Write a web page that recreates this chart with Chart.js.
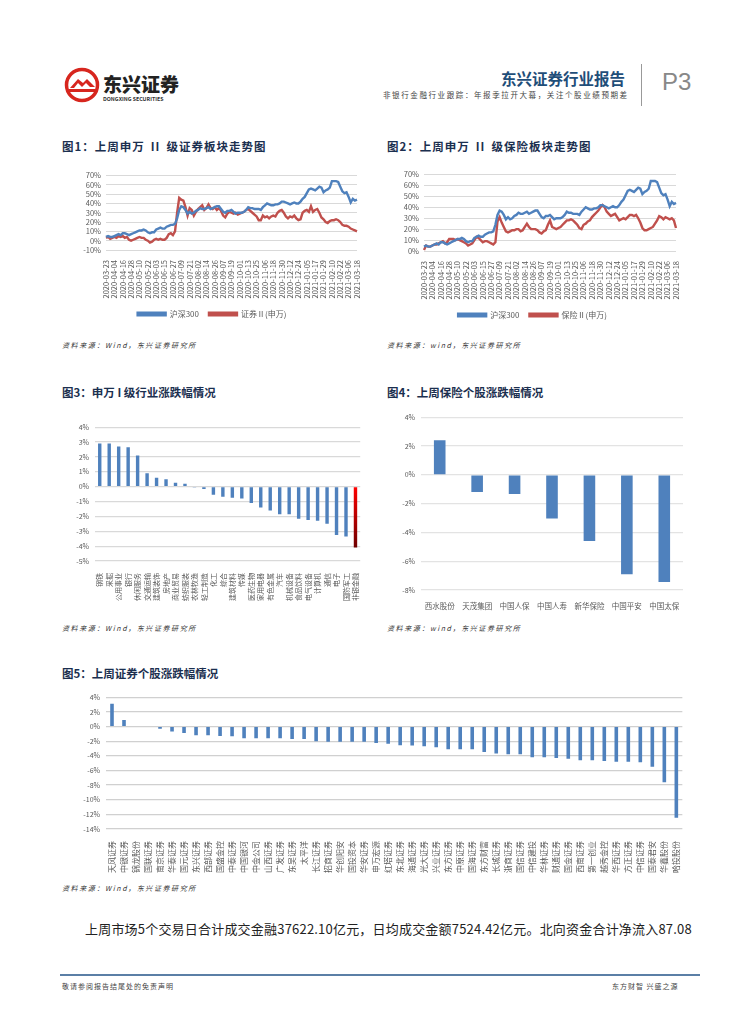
<!DOCTYPE html>
<html>
<head>
<meta charset="utf-8">
<title>非银行金融行业跟踪</title>
<script src="https://cdn.jsdelivr.net/npm/chart.js@4.4.1/dist/chart.umd.min.js"></script>
<style>
  body { margin: 0; background: #fff; font-family: "Noto Sans CJK SC", sans-serif; }
  #page { position: relative; width: 755px; height: 1024px; overflow: hidden; }
  .abs { position: absolute; white-space: nowrap; }
  .title { font-size: 11.5px; font-weight: bold; color: #1b2f4f; }
  .title .rn { margin: 0 6px; }
  .src { font-size: 7px; font-style: italic; color: #333; letter-spacing: 1.6px; }
  .box { position: absolute; }
</style>
</head>
<body>
<div id="page">
  <!-- header -->
  <svg class="abs" style="left:64px;top:67px" width="36" height="36" viewBox="0 0 36 36">
    <circle cx="18" cy="18" r="15.5" fill="none" stroke="#d7261e" stroke-width="3.5"/>
    <path d="M6 21 L14 12 L19 16 L23 12 L31 20 L26 20 L22 16 L18 20 L14 16 L10 21 Z" fill="#d7261e"/>
    <rect x="5" y="22" width="26" height="3" fill="#d7261e"/>
  </svg>
  <div class="abs" style="left:103px;top:70px;font-size:19px;font-weight:900;color:#222">东兴证券</div>
  <div class="abs" style="left:103px;top:95px;font-size:5.3px;font-weight:bold;color:#333">DONGXING SECURITIES</div>
  <div class="abs" style="left:501px;top:67px;font-size:15.5px;font-weight:bold;color:#1f4e79">东兴证券行业报告</div>
  <div class="abs" style="left:383px;top:89px;font-size:7.5px;color:#444;letter-spacing:1.6px">非银行金融行业跟踪：年报季拉开大幕，关注个股业绩预期差</div>
  <div class="abs" style="left:641px;top:64px;width:1px;height:42px;background:#999"></div>
  <div class="abs" style="left:662px;top:68px;font-size:24px;color:#888;font-family:'Liberation Sans'">P3</div>

  <!-- titles -->
  <div class="abs title" style="left:62px;top:138px;letter-spacing:1px">图1：上周申万<span class="rn">II</span>级证券板块走势图</div>
  <div class="abs title" style="left:387px;top:138px;letter-spacing:1px">图2：上周申万<span class="rn">II</span>级保险板块走势图</div>
  <div class="abs src" style="left:62px;top:340px">资料来源：Wind，东兴证券研究所</div>
  <div class="abs src" style="left:387px;top:340px">资料来源：wind，东兴证券研究所</div>

  <div class="abs title" style="left:62px;top:384px">图3：申万 I 级行业涨跌幅情况</div>
  <div class="abs title" style="left:387px;top:384px">图4：上周保险个股涨跌幅情况</div>
  <div class="abs src" style="left:62px;top:623px">资料来源：Wind，东兴证券研究所</div>
  <div class="abs src" style="left:387px;top:623px">资料来源：wind，东兴证券研究所</div>

  <div class="abs title" style="left:62px;top:665px">图5：上周证券个股涨跌幅情况</div>
  <div class="abs src" style="left:62px;top:883px">资料来源：Wind，东兴证券研究所</div>

  <div class="abs" style="left:85px;top:919px;font-size:13px;color:#222;letter-spacing:0.2px">上周市场5个交易日合计成交金融37622.10亿元，日均成交金额7524.42亿元。北向资金合计净流入87.08</div>

  <div class="abs" style="left:60px;top:974px;width:640px;height:2px;background:#5b7fa6"></div>
  <div class="abs" style="left:62px;top:981px;font-size:7px;color:#444;letter-spacing:1px">敬请参阅报告结尾处的免责声明</div>
  <div class="abs" style="left:612px;top:981px;font-size:7px;color:#444;letter-spacing:1px">东方财智 兴盛之源</div>

  <div class="box" style="left:62px;top:166px;width:306px;height:162px"><canvas id="c1"></canvas></div>
  <div class="box" style="left:387px;top:165px;width:300px;height:164px"><canvas id="c2"></canvas></div>
  <div class="box" style="left:62px;top:417px;width:306px;height:186px"><canvas id="c3"></canvas></div>
  <div class="box" style="left:390px;top:407px;width:300px;height:207px"><canvas id="c4"></canvas></div>
  <div class="box" style="left:62px;top:687px;width:628px;height:190px"><canvas id="c5"></canvas></div>
</div>

<script>
// ---- data ----
const tickDates = ['2020-03-23','2020-04-04','2020-04-16','2020-04-28','2020-05-10','2020-05-22',
  '2020-06-03','2020-06-15','2020-06-27','2020-07-09','2020-07-21','2020-08-02','2020-08-14',
  '2020-08-26','2020-09-07','2020-09-19','2020-10-01','2020-10-13','2020-10-25','2020-11-06',
  '2020-11-18','2020-11-30','2020-12-12','2020-12-24','2021-01-05','2021-01-17','2021-01-29',
  '2021-02-10','2021-02-22','2021-03-06','2021-03-18'];

// one value every 3 days, 4 per tick interval (%)
const hs300 = [4,5,4,4,5,6,7,6,8,8,7,6,7,8,9,10,11,11,12,11,9,8,9,9,12,13,14,13,13,15,16,17,17,18,
  24,33,37,36,33,29,31,29,30,32,33,35,34,34,35,36,34,35,36,37,37,34,31,30,32,32,33,31,29,30,30,30,
  31,33,36,35,35,34,34,34,33,36,38,40,39,38,38,39,39,40,42,42,41,40,39,40,41,40,40,42,45,47,51,55,
  56,55,54,56,58,57,52,54,55,57,64,64,64,63,58,53,51,52,47,41,45,43,44];
const brokerII = [3,4,2,3,4,3,5,4,5,3,4,1,0,1,2,3,4,3,3,1,0,-2,-1,1,2,1,2,1,1,3,7,8,6,10,30,46,44,43,
  36,27,35,33,27,31,34,36,38,33,35,39,35,34,36,33,35,32,27,25,29,31,30,29,30,28,29,30,31,33,34,32,30,
  28,26,22,22,27,25,26,24,26,27,26,30,32,33,30,26,24,26,25,27,24,22,23,30,32,33,31,37,31,33,34,30,25,
  23,20,19,21,22,22,23,22,20,17,16,16,15,13,12,11,10];
const insureII = [1,5,4,4,5,6,6,7,8,9,7,8,11,11,11,10,11,10,9,8,7,5,6,7,10,13,12,10,8,9,9,8,7,6,8,27,
  31,26,22,18,17,18,19,19,20,20,18,19,22,25,22,20,20,20,19,17,16,18,19,24,28,22,21,20,21,22,24,26,28,
  28,29,28,26,24,21,20,24,25,27,28,31,33,35,37,40,42,40,36,34,32,33,34,31,28,29,30,29,31,33,33,32,33,
  30,26,21,19,19,20,21,22,25,28,32,31,29,31,30,29,30,28,21];

const industries = ['钢铁','采掘','公用事业','银行','休闲服务','交通运输','建筑装饰','房地产','商业贸易',
  '纺织服装','农林牧渔','轻工制造','化工','综合','建筑材料','传媒','医药生物','家用电器','有色金属',
  '汽车','机械设备','食品饮料','电气设备','计算机','通信','电子','国防军工','非银金融'];
const industryChg = [2.9,2.9,2.7,2.65,2.1,0.9,0.6,0.5,0.27,0.2,-0.02,-0.15,-0.55,-0.67,-0.74,-0.8,-1.1,
  -1.4,-1.6,-1.85,-1.85,-2.15,-2.25,-2.3,-2.5,-3.25,-3.35,-4.1];

const insurers = ['西水股份','天茂集团','中国人保','中国人寿','新华保险','中国平安','中国太保'];
const insurerChg = [2.4,-1.2,-1.33,-3.03,-4.6,-6.9,-7.45];

const brokers = ['天风证券','中银证券','锦龙股份','国联证券','南京证券','华泰证券','国元证券','东兴证券',
  '西部证券','国盛金控','中泰证券','中国银河','中金公司','山西证券','广发证券','东吴证券','太平洋',
  '长江证券','招商证券','华创阳安','国投资本','华安证券','申万宏源','红塔证券','东北证券','海通证券',
  '光大证券','兴业证券','东方证券','中原证券','国海证券','东方财富','长城证券','浙商证券','国信证券',
  '中信建投','华林证券','财通证券','国金证券','西南证券','第一创业','越秀金控','华西证券','方正证券',
  '中信证券','国泰君安','华鑫股份','哈投股份'];
const brokerChg = [3.1,0.9,0,0,-0.3,-0.7,-0.9,-1.2,-1.2,-1.3,-1.35,-1.6,-1.6,-1.6,-1.6,-1.7,-1.7,-2.0,
  -2.1,-2.1,-2.1,-2.1,-2.25,-2.35,-2.55,-2.6,-2.7,-2.85,-3.1,-3.1,-3.1,-3.5,-3.7,-3.8,-3.8,-4.2,-4.2,
  -4.3,-4.4,-4.6,-4.6,-4.7,-4.8,-4.8,-4.9,-5.5,-7.6,-12.45];

// ---- charts ----
Chart.defaults.font.family = "'Noto Sans CJK SC', sans-serif";
Chart.defaults.font.size = 7;
Chart.defaults.color = '#595959';
Chart.defaults.animation = false;

const BLUE = '#4f81bd';
const RED = '#c0504d';
const GRID = '#d9d9d9';

const dayLabels = hs300.map((v, i) => (i % 4 === 0 ? tickDates[i / 4] : ''));

function pct(v) { return v + '%'; }
function fixW(w) { return s => { s.width = w; }; }
function fixH(h) { return s => { s.height = h; }; }

function lineChart(id, red, redName, yMin, yMax, yW, padR) {
  new Chart(document.getElementById(id), {
    type: 'line',
    data: {
      labels: dayLabels,
      datasets: [
        { label: '沪深300', data: hs300, borderColor: BLUE, backgroundColor: BLUE, borderWidth: 2.4, pointRadius: 0, tension: 0 },
        { label: redName, data: red, borderColor: RED, backgroundColor: RED, borderWidth: 2.4, pointRadius: 0, tension: 0 }
      ]
    },
    options: {
      responsive: true, maintainAspectRatio: false,
      layout: { padding: { left: 0, right: padR, top: 4, bottom: 0 } },
      plugins: {
        tooltip: { enabled: false },
        legend: { position: 'bottom', labels: { boxWidth: 28, boxHeight: 2.5, padding: 10, font: { size: 8 }, color: '#595959' } }
      },
      scales: {
        x: {
          grid: { display: false }, border: { display: false }, afterFit: fixH(50),
          ticks: { autoSkip: false, maxRotation: 90, minRotation: 90, padding: 2, font: { size: 7.5 } }
        },
        y: {
          min: yMin, max: yMax, afterFit: fixW(yW),
          grid: { color: GRID, drawTicks: false }, border: { display: false },
          ticks: { autoSkip: false, stepSize: 10, callback: pct, padding: 5, font: { size: 7.5 } }
        }
      }
    }
  });
}
lineChart('c1', brokerII, '证券Ⅱ(申万)', -10, 70, 44, 6);
lineChart('c2', insureII, '保险Ⅱ(申万)', 0, 70, 37, 9);

function redGradient(ctx) {
  const area = ctx.chart.chartArea;
  if (!area) return '#c00000';
  const y0 = ctx.chart.scales.y.getPixelForValue(0);
  const y1 = ctx.chart.scales.y.getPixelForValue(ctx.raw);
  const g = ctx.chart.ctx.createLinearGradient(0, y0, 0, y1);
  g.addColorStop(0, '#ff0000');
  g.addColorStop(1, '#6e0000');
  return g;
}

function barOptions(yMin, yMax, step, yW, xH, padR, rotate, xFont, gridColor) {
  return {
    responsive: true, maintainAspectRatio: false,
    layout: { padding: { left: 0, right: padR, top: 4, bottom: 0 } },
    plugins: { legend: { display: false }, tooltip: { enabled: false } },
    scales: {
      x: { grid: { display: false }, border: { display: false }, afterFit: fixH(xH),
           ticks: { autoSkip: false, maxRotation: rotate, minRotation: rotate, padding: 4, font: { size: xFont } } },
      y: { min: yMin, max: yMax, afterFit: fixW(yW),
           grid: { color: gridColor, lineWidth: 1.2, drawTicks: false }, border: { display: false },
           ticks: { autoSkip: false, stepSize: step, callback: pct, padding: 6, font: { size: 7 } } }
    }
  };
}

new Chart(document.getElementById('c3'), {
  type: 'bar',
  data: {
    labels: industries,
    datasets: [{
      data: industryChg,
      backgroundColor: ctx => (ctx.dataIndex === industries.length - 1 ? redGradient(ctx) : BLUE),
      barPercentage: 0.36, categoryPercentage: 1
    }]
  },
  options: barOptions(-5, 4, 1, 33, 42, 7, 90, 7, GRID)
});

new Chart(document.getElementById('c4'), {
  type: 'bar',
  data: {
    labels: insurers,
    datasets: [{ data: insurerChg, backgroundColor: BLUE, barPercentage: 0.31, categoryPercentage: 1 }]
  },
  options: barOptions(-8, 4, 2, 31, 24, 7, 0, 7.5, '#e3e3e3')
});

new Chart(document.getElementById('c5'), {
  type: 'bar',
  data: {
    labels: brokers,
    datasets: [{ data: brokerChg, backgroundColor: BLUE, barPercentage: 0.3, categoryPercentage: 1 }]
  },
  options: barOptions(-14, 4, 2, 44, 48, 6, 90, 8, '#d0d0d0')
});
</script>
</body>
</html>
